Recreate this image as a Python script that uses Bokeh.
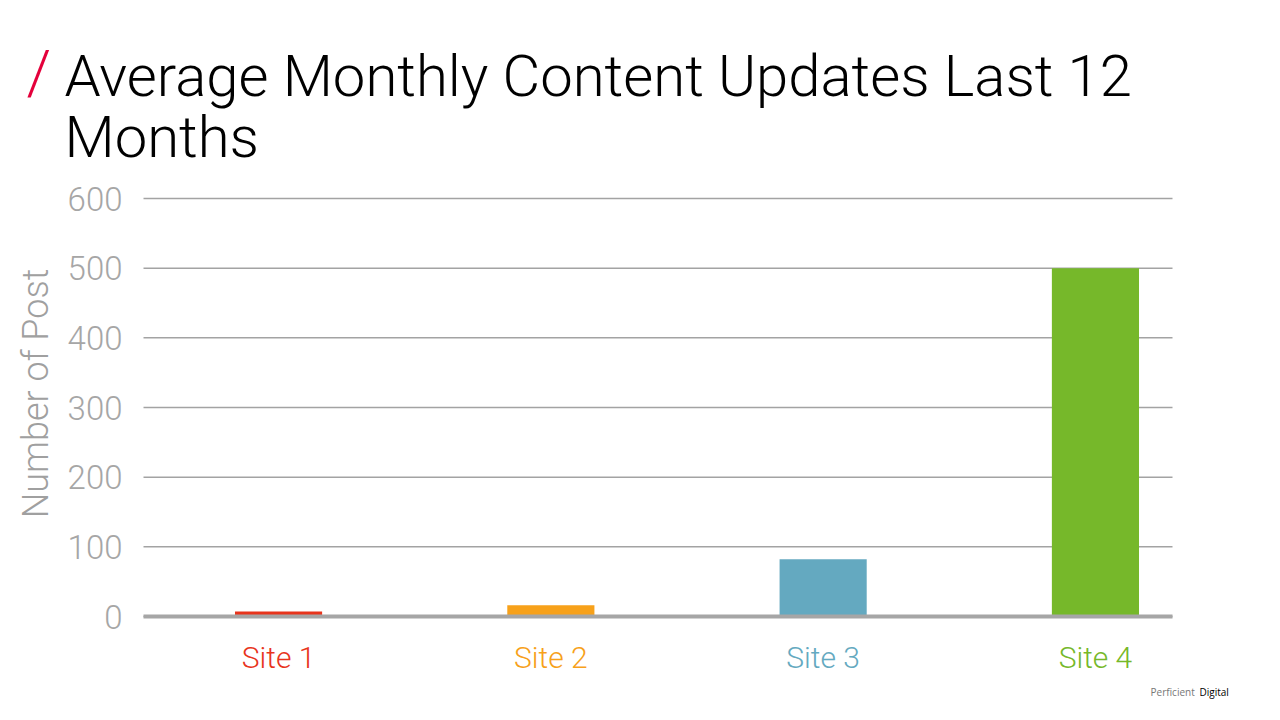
import math
from bokeh.plotting import figure
from bokeh.models import Range1d
from bokeh.core.properties import value
from bokeh.embed import file_html
from bokeh.resources import INLINE

categories = ["Site 1", "Site 2", "Site 3", "Site 4"]
values = [7, 16, 82, 500]
colors = ["#e8341c", "#f7a11a", "#64a9c0", "#76b82a"]
y_ticks = [0, 100, 200, 300, 400, 500, 600]
y_tick_labels = ["0", "100", "200", "300", "400", "500", "600"]
title_lines = ["Average Monthly Content Updates Last 12", "Months"]
y_label = "Number of Post"

FONT = "Roboto Light"

x_pos = [1, 2, 3, 4]
X0, X1 = 0.504, 4.283
Y0, Y1 = 0, 600
FL, FR, FT, FB = 143, 1172, 198, 616  # plot area px

def px2x(px):
    return X0 + (px - FL) * (X1 - X0) / (FR - FL)

def px2y(py):
    return Y0 + (FB - py) * (Y1 - Y0) / (FB - FT)

p = figure(width=1280, height=720, output_backend="svg", toolbar_location=None,
           x_range=Range1d(px2x(0), px2x(1280)), y_range=Range1d(px2y(720), px2y(0)),
           x_axis_type=None, y_axis_type=None,
           min_border=0)
p.outline_line_color = None
p.background_fill_color = "white"
p.border_fill_color = "white"
p.xgrid.visible = False
p.ygrid.visible = False

# grid lines
n = len(y_ticks)
p.segment(x0=[px2x(FL)] * n, x1=[px2x(FR)] * n, y0=y_ticks, y1=y_ticks,
          line_color="#a3a3a3", line_width=1.5)

# bars
p.vbar(x=x_pos, top=values, bottom=0, width=0.32, color=colors, line_color=None)

# baseline
p.segment(x0=[px2x(FL)], x1=[px2x(FR)], y0=[0], y1=[0], line_color="#a6a6a6", line_width=4)

# y tick labels
p.text(x=[px2x(122)] * n, y=y_ticks, text=y_tick_labels, text_font=value(FONT),
       text_font_size="33px", text_color="#a6a6a6", text_align="right", text_baseline="middle")

# y axis label
p.text(x=[px2x(35)], y=[px2y(393)], text=[y_label], angle=math.pi / 2,
       text_font=value(FONT), text_font_size="36px", text_color="#a0a0a0",
       text_align="center", text_baseline="middle")

# category labels
p.text(x=x_pos, y=[px2y(657)] * len(x_pos), text=categories, text_color=colors,
       text_font=value(FONT), text_font_size="30px", text_align="center", text_baseline="middle")

# title
p.text(x=[px2x(64)] * 2, y=[px2y(75.5), px2y(136.5)], text=title_lines, text_color="#000000",
       text_font=value(FONT), text_font_size="58px", text_baseline="alphabetic")

p.text(x=[px2x(26)], y=[px2y(72)], text=["/"], text_color="#e4003b",
       text_font=value(FONT), text_font_size="62px", text_baseline="alphabetic")

# footer
p.text(x=[px2x(1150)], y=[px2y(691)], text=["Perficient"], text_color="#777777",
       text_font=value("Open Sans"), text_font_size="10px", text_baseline="middle")
p.text(x=[px2x(1199)], y=[px2y(691)], text=["Digital"], text_color="#000000",
       text_font=value("Open Sans"), text_font_size="10px", text_baseline="middle")

open("out.html", "w").write(file_html(p, INLINE))
